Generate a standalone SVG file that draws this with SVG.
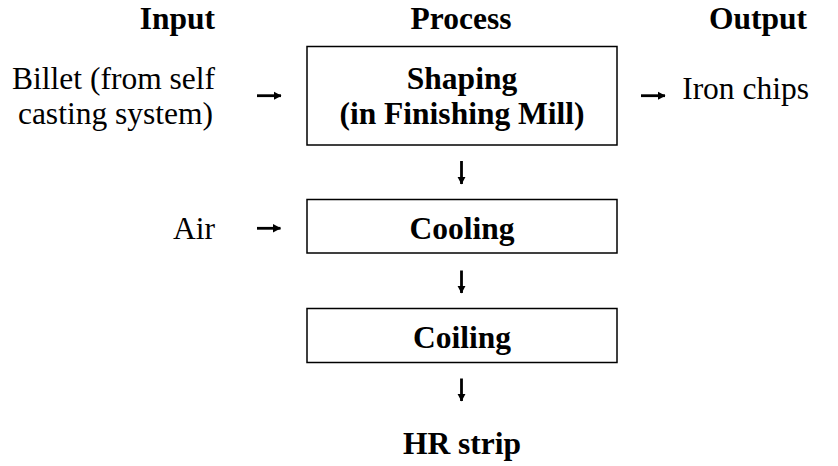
<svg xmlns="http://www.w3.org/2000/svg" width="838" height="466" viewBox="0 0 838 466" font-family="Liberation Serif, Times New Roman, serif">
  <defs>
    <marker id="ah" markerWidth="8" markerHeight="10" refX="7.5" refY="5" orient="auto" markerUnits="userSpaceOnUse">
      <path d="M0,0.8 L8,5 L0,9.2 Z" fill="#000"/>
    </marker>
    <style>
      text { font-family: 'Liberation Serif', 'Times New Roman', serif; font-size: 31.5px; fill: #000; }
      .b { font-weight: bold; }
      .box { fill: #fff; stroke: #000; stroke-width: 1.5; }
      .arr { stroke: #000; stroke-width: 2.8; fill: none; marker-end: url(#ah); }
    </style>
  </defs>
  <rect width="838" height="466" fill="#fff"/>

  <g id="headers">
    <text class="b" x="215" y="29" text-anchor="end">Input</text>
    <text class="b" x="461" y="29" text-anchor="middle">Process</text>
    <text class="b" x="807" y="29" text-anchor="end">Output</text>
  </g>

  <g id="input-billet">
    <text x="215" y="88.5" text-anchor="end">Billet (from self</text>
    <text x="213" y="124" text-anchor="end">casting system)</text>
  </g>

  <g id="shaping">
    <rect class="box" x="307" y="46.5" width="310" height="98.5"/>
    <text class="b" x="462" y="88.5" text-anchor="middle">Shaping</text>
    <text class="b" x="462" y="124" text-anchor="middle">(in Finishing Mill)</text>
  </g>

  <g id="output-iron">
    <text x="809" y="99" text-anchor="end">Iron chips</text>
  </g>

  <g id="input-air">
    <text x="215" y="238.5" text-anchor="end">Air</text>
  </g>

  <g id="cooling">
    <rect class="box" x="307" y="199.5" width="310" height="53.5"/>
    <text class="b" x="462" y="238.5" text-anchor="middle">Cooling</text>
  </g>

  <g id="coiling">
    <rect class="box" x="307" y="308.5" width="310" height="54"/>
    <text class="b" x="462" y="347.5" text-anchor="middle">Coiling</text>
  </g>

  <g id="hr-strip">
    <text class="b" x="462" y="454" text-anchor="middle">HR strip</text>
  </g>

  <g id="connectors">
    <line class="arr" x1="257" y1="95.7" x2="281" y2="95.7"/>
    <line class="arr" x1="641" y1="95.7" x2="665" y2="95.7"/>
    <line class="arr" x1="257" y1="228.3" x2="280.5" y2="228.3"/>
    <line class="arr" x1="461.5" y1="161" x2="461.5" y2="184"/>
    <line class="arr" x1="461.5" y1="270.5" x2="461.5" y2="293"/>
    <line class="arr" x1="461.5" y1="378.5" x2="461.5" y2="401"/>
  </g>
</svg>
